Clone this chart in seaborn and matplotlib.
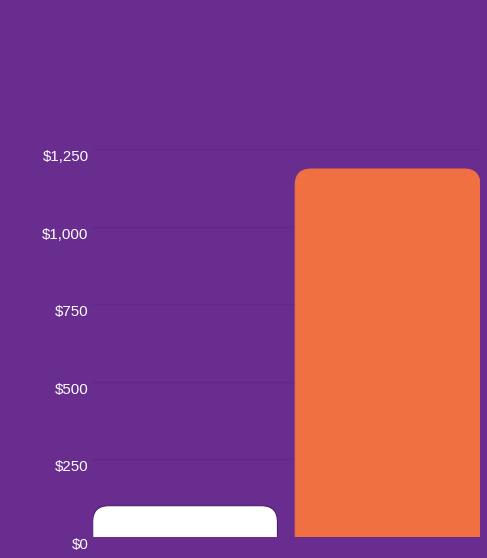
import matplotlib
matplotlib.use("Agg")
import matplotlib.pyplot as plt
import matplotlib.transforms as mtransforms
from matplotlib.patches import FancyBboxPatch
import seaborn as sns
import pandas as pd

categories = ["A", "B"]
values = [100, 1186]
bar_colors = ["#ffffff", "#f07042"]
edge_colors = ["#4b1c72", "#f07042"]
tick_values = [0, 250, 500, 750, 1000, 1250]
tick_labels = ["$0", "$250", "$500", "$750", "$1,000", "$1,250"]

BG = "#692c8f"
GRID = "#62288a"

sns.set_theme(style="white")
plt.rcParams["font.family"] = ["Liberation Sans", "DejaVu Sans"]

fig = plt.figure(figsize=(4.87, 5.58), dpi=100)
fig.patch.set_facecolor(BG)
ax = fig.add_axes([92.7 / 487, 21.3 / 558, (480 - 92.7) / 487, (536.7 - 133.7) / 558])
ax.set_facecolor(BG)

df = pd.DataFrame({"cat": categories, "val": values})
width = 0.912
sns.barplot(data=df, x="cat", y="val", hue="cat", palette=bar_colors,
            width=width, legend=False, ax=ax, saturation=1)

ax.set_ylim(0, 1300)
ax.set_xlim(-width / 2, 1 + width / 2)
ax.set_yticks(tick_values)
ax.set_yticklabels(tick_labels)
ax.set_xticks([])
ax.set_xlabel("")
ax.set_ylabel("")
for s in ax.spines.values():
    s.set_visible(False)

ax.yaxis.grid(True, color=GRID, linewidth=1)
ax.set_axisbelow(True)
ax.tick_params(axis="y", length=0, pad=3, labelcolor="white", labelsize=10.8)

# rounded top corners
fig.canvas.draw()
bbox = ax.get_window_extent()
px_per_x = bbox.width / (ax.get_xlim()[1] - ax.get_xlim()[0])
px_per_y = bbox.height / (ax.get_ylim()[1] - ax.get_ylim()[0])
radius_px = 16
r_x = radius_px / px_per_x
aspect = px_per_x / px_per_y
patches = list(ax.patches)
for i, p in enumerate(patches):
    x0, y0, w, h = p.get_x(), p.get_y(), p.get_width(), p.get_height()
    fc = p.get_facecolor()
    p.remove()
    ext = radius_px / px_per_y
    fb = FancyBboxPatch((x0, y0 - ext), w, h + ext,
                        boxstyle=f"round,pad=0,rounding_size={r_x}",
                        mutation_aspect=aspect,
                        facecolor=fc, edgecolor=edge_colors[i], linewidth=0.8,
                        zorder=2, clip_on=True)
    ax.add_patch(fb)

offset = mtransforms.ScaledTranslation(0, -6.5 / 100, fig.dpi_scale_trans)
for lab in ax.get_yticklabels():
    lab.set_transform(lab.get_transform() + offset)

fig.savefig("out.png", dpi=100, facecolor=BG)
